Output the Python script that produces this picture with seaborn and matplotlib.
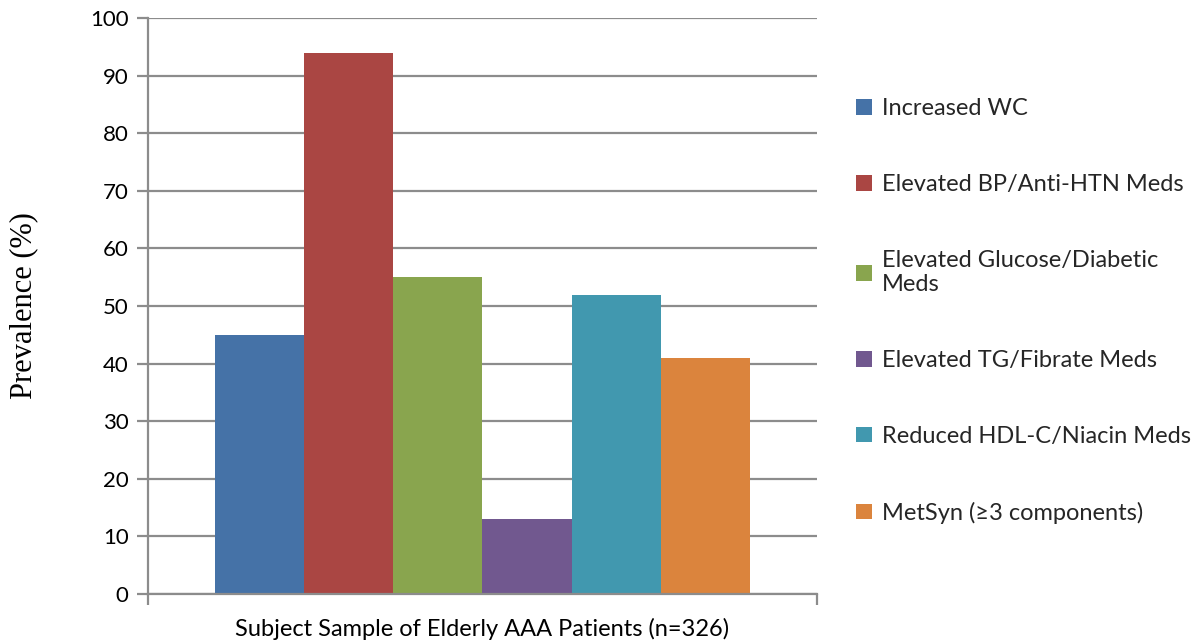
import matplotlib
matplotlib.use("Agg")
import matplotlib.pyplot as plt
import seaborn as sns
import pandas as pd

# Metabolic syndrome component prevalence
group = "Subject Sample of Elderly AAA Patients (n=326)"
components = [
    "Increased WC",
    "Elevated BP/Anti-HTN Meds",
    "Elevated Glucose/Diabetic\nMeds",
    "Elevated TG/Fibrate Meds",
    "Reduced HDL-C/Niacin Meds",
    "MetSyn (\u22653 components)",
]
prevalence = [45, 94, 55, 13, 52, 41]
colors = ["#4572A7", "#AA4643", "#89A54E", "#71588F", "#4198AF", "#DB843D"]
yticks = [0, 10, 20, 30, 40, 50, 60, 70, 80, 90, 100]

df = pd.DataFrame({"group": [group] * len(components),
                   "component": components,
                   "prevalence": prevalence})

sns.set_theme(style="white")
plt.rcParams["font.family"] = ["Lato", "DejaVu Sans"]

fig = plt.figure(figsize=(11.94, 6.44), dpi=100)
ax = fig.add_axes([0.124, 0.0776, 0.56, 0.8944])

sns.barplot(data=df, x="group", y="prevalence", hue="component",
            hue_order=components, palette=colors, width=0.8,
            saturation=1, linewidth=0, ax=ax, legend=True)

grid_c = "#8c8c8c"
ax.set_xlim(-0.5, 0.5)
ax.set_ylim(0, 100)
ax.set_yticks(yticks)
ax.yaxis.grid(True, color=grid_c, linewidth=1.6)
ax.set_axisbelow(True)
for s in ["top", "right"]:
    ax.spines[s].set_visible(False)
for s in ["left", "bottom"]:
    ax.spines[s].set_color(grid_c)
    ax.spines[s].set_linewidth(1.6)

ax.tick_params(axis="y", direction="out", length=8, width=1.6, color=grid_c,
               labelsize=16, labelcolor="black", pad=6, left=True)
ax.tick_params(axis="x", which="major", length=0, labelsize=17,
               labelcolor="black", pad=17)
ax.set_xticks([-0.5, 0.5], minor=True)
ax.tick_params(axis="x", which="minor", direction="out", length=8, width=1.6,
               color=grid_c, bottom=True)

ax.set_xlabel("")
ax.set_ylabel("Prevalence (%)", family="Liberation Serif", fontsize=22,
              color="black", labelpad=37)

leg = ax.legend(loc="upper left", bbox_to_anchor=(1.045, 0.877), frameon=False,
                fontsize=17, handlelength=0.65, handleheight=0.65,
                handletextpad=0.45, labelspacing=2.32, borderaxespad=0)

fig.savefig("out.png", dpi=100, facecolor="white")
